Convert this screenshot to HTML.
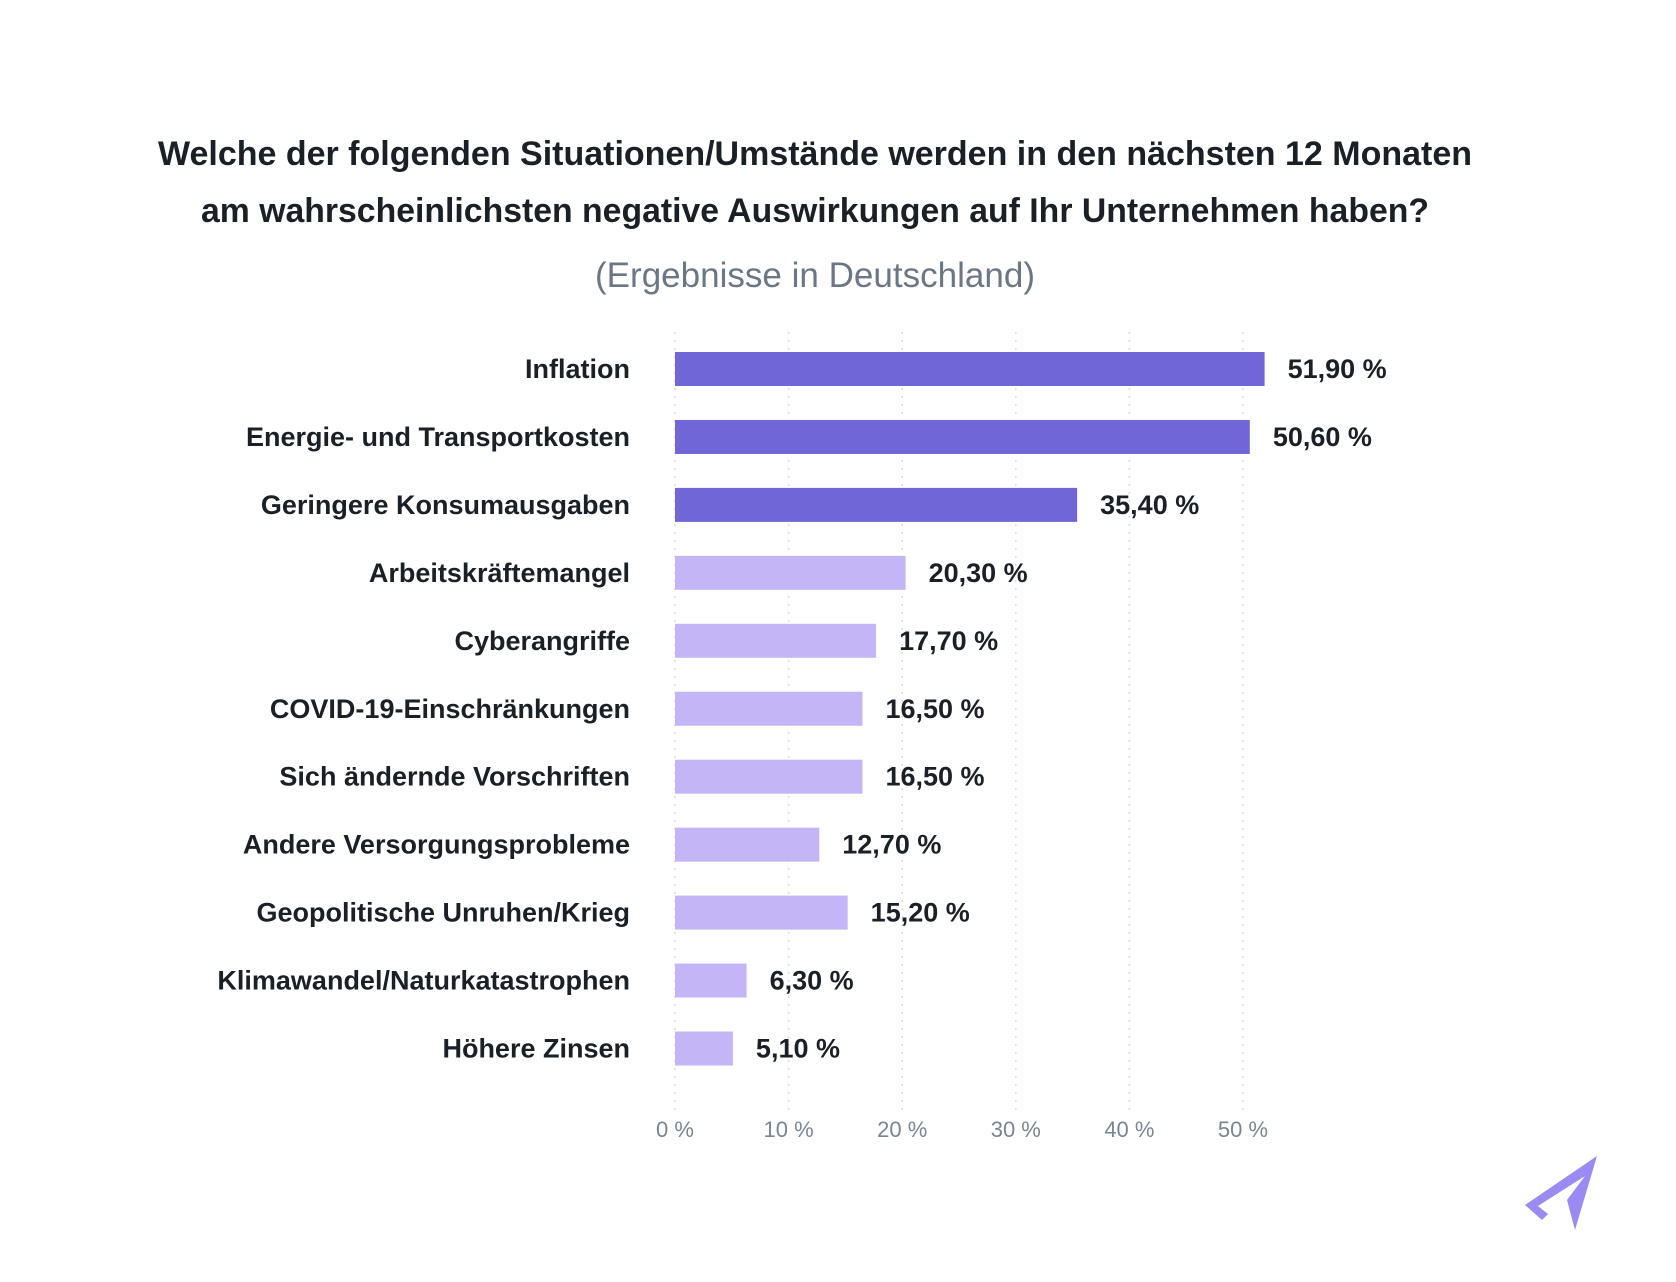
<!DOCTYPE html>
<html><head><meta charset="utf-8"><style>
html,body{margin:0;padding:0;background:#fff;}
svg{display:block;font-family:"Liberation Sans",sans-serif;}
</style></head><body>
<svg id="chart" width="1676" height="1282" viewBox="0 0 1676 1282">
<text x="815" y="165" text-anchor="middle" font-size="34" font-weight="bold" fill="#1b2027" textLength="1314" lengthAdjust="spacingAndGlyphs">Welche der folgenden Situationen/Umstände werden in den nächsten 12 Monaten</text>
<text x="815" y="222" text-anchor="middle" font-size="34" font-weight="bold" fill="#1b2027" textLength="1228" lengthAdjust="spacingAndGlyphs">am wahrscheinlichsten negative Auswirkungen auf Ihr Unternehmen haben?</text>
<text x="815" y="287" text-anchor="middle" font-size="35" fill="#6b7785" textLength="440" lengthAdjust="spacingAndGlyphs">(Ergebnisse in Deutschland)</text>
<g id="grid"></g><g id="bars"></g><g id="labels"></g>
<g transform="translate(-18,-12)">
<polygon points="1615,1168 1543,1217 1560,1232 1566,1226 1556,1218 1603,1188 1585,1212 1593,1242" fill="#9b8af2"/>
</g>
</svg>
<script>
const categories=["Inflation","Energie- und Transportkosten","Geringere Konsumausgaben","Arbeitskräftemangel","Cyberangriffe","COVID-19-Einschränkungen","Sich ändernde Vorschriften","Andere Versorgungsprobleme","Geopolitische Unruhen/Krieg","Klimawandel/Naturkatastrophen","Höhere Zinsen"];
const values=[51.9,50.6,35.4,20.3,17.7,16.5,16.5,12.7,15.2,6.3,5.1];
const highlighted=[true,true,true,false,false,false,false,false,false,false,false];
const ticks=[0,10,20,30,40,50];
const NS="http://www.w3.org/2000/svg";
const x0=675,pxPer=11.36,y0=369,pitch=67.95,bh=34;
const xs=v=>x0+v*pxPer;
const ys=i=>y0+i*pitch;
function mk(tag,attrs,parent){const e=document.createElementNS(NS,tag);for(const k in attrs)e.setAttribute(k,attrs[k]);parent.appendChild(e);return e;}
const grid=document.getElementById('grid'),bars=document.getElementById('bars'),labels=document.getElementById('labels');
ticks.forEach(t=>{
  const l=mk('line',{x1:xs(t),x2:xs(t),y1:332,y2:1110,stroke:'#dcdcdc','stroke-width':1.5,'stroke-dasharray':'2,6'},grid);
  
  
  const tx=mk('text',{x:xs(t),y:1137,'text-anchor':'middle','font-size':22,fill:'#7a8591'},grid);
  tx.textContent=t+' %';
  
  
});
categories.forEach((c,i)=>{
  const cy=ys(i);
  const r=mk('rect',{x:x0,y:cy-bh/2,width:xs(values[i])-x0,height:bh,fill:highlighted[i]?'#7066d8':'#c4b5f7'},bars);
  
  
  const lb=mk('text',{x:630,y:cy+9,'text-anchor':'end','font-size':27,'font-weight':'bold',fill:'#1b2027'},labels);
  lb.textContent=c;
  
  
  const vl=mk('text',{x:xs(values[i])+23,y:cy+9,'font-size':27,'font-weight':'bold',fill:'#1b2027'},labels);
  vl.textContent=values[i].toFixed(2).replace('.',',')+' %';
  
  
});
</script>
</body></html>
